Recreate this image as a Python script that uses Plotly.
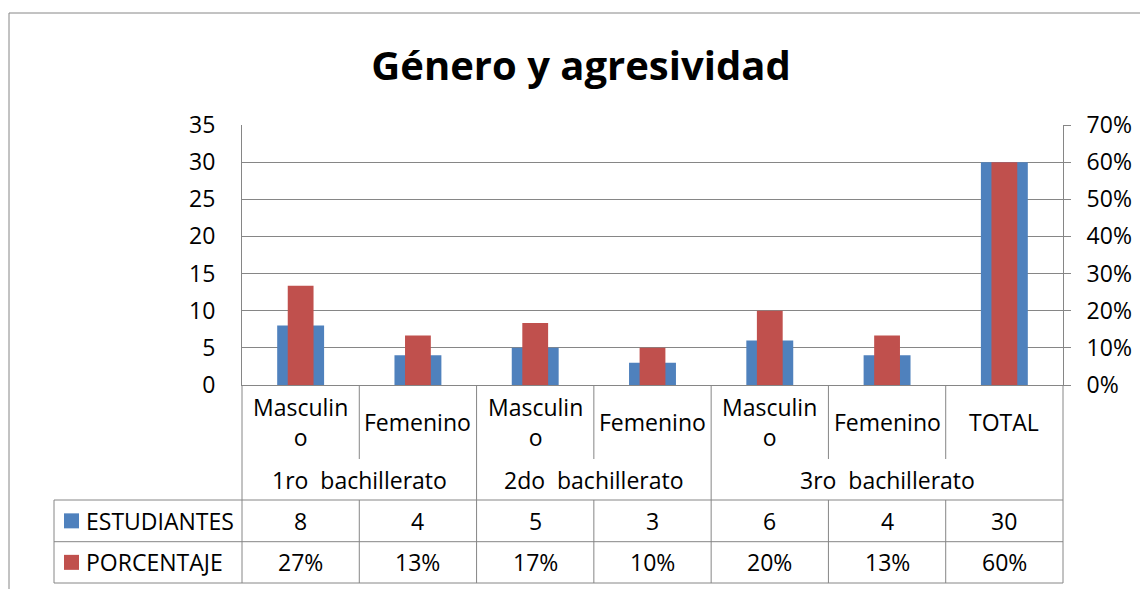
import plotly.graph_objects as go

# ---------------- data ----------------
subcategories = ["Masculino", "Femenino", "Masculino", "Femenino", "Masculino", "Femenino", "TOTAL"]
cat_labels = ["Masculin<br>o", "Femenino", "Masculin<br>o", "Femenino", "Masculin<br>o", "Femenino", "TOTAL"]
groups = ["1ro  bachillerato", "2do  bachillerato", "3ro  bachillerato"]
group_spans = [(0, 1), (2, 3), (4, 6)]
estudiantes = [8, 4, 5, 3, 6, 4, 30]
porcentaje = [0.267, 0.133, 0.167, 0.10, 0.20, 0.133, 0.60]
series_names = ["ESTUDIANTES", "PORCENTAJE"]
left_ticks = [0, 5, 10, 15, 20, 25, 30, 35]
right_ticks = [0, 0.1, 0.2, 0.3, 0.4, 0.5, 0.6, 0.7]
title_text = "Género y agresividad"

# ---------------- style ----------------
BLUE = "#4F81BD"
RED = "#C0504D"
GRID = "#868686"
FONT = "'Open Sans', 'Noto Sans', sans-serif"
FS = 23

W, H = 1140, 589
L, R, T, B = 242, 1063, 125, 385
n = len(subcategories)
xs = list(range(n))


def fx(px):
    return (px - L) / (R - L)


def fy(py):
    return (B - py) / (B - T)


fig = go.Figure()
fig.add_trace(go.Bar(x=xs, y=estudiantes, name=series_names[0], width=0.4,
                     marker=dict(color=BLUE, line=dict(width=0)), yaxis="y"))
fig.add_trace(go.Bar(x=xs, y=porcentaje, name=series_names[1], width=0.22,
                     marker=dict(color=RED, line=dict(width=0)), yaxis="y2"))

shapes = []
annotations = []


def hline(py, x0, x1):
    shapes.append(dict(type="line", xref="paper", yref="paper", x0=fx(x0), x1=fx(x1),
                       y0=fy(py), y1=fy(py), line=dict(color=GRID, width=1), layer="above"))


def vline(px, y0, y1):
    shapes.append(dict(type="line", xref="paper", yref="paper", x0=fx(px), x1=fx(px),
                       y0=fy(y0), y1=fy(y1), line=dict(color=GRID, width=1), layer="above"))


# outer chart border (extends past the canvas on right/bottom)
vline(9, 13, H + 5)
hline(13, 9, W + 5)

# table geometry (pixels)
CAT_BOTTOM = 459
GROUP_BOTTOM = 500
ROW1_BOTTOM = 541.7
ROW2_BOTTOM = 583
LEG_LEFT = 54
colw = (R - L) / n
group_bounds = set()
for a, b in group_spans:
    group_bounds.add(a)
    group_bounds.add(b + 1)

for k in range(n + 1):
    px = L + k * colw
    if k in group_bounds or k == 0 or k == n:
        vline(px, B, ROW2_BOTTOM)
    else:
        vline(px, B, CAT_BOTTOM)
        vline(px, GROUP_BOTTOM, ROW2_BOTTOM)
vline(LEG_LEFT, GROUP_BOTTOM, ROW2_BOTTOM)
for py in (GROUP_BOTTOM, ROW1_BOTTOM, ROW2_BOTTOM):
    hline(py, LEG_LEFT, R)

txtfont = dict(family=FONT, size=FS, color="black")

# category labels
for i, lab in enumerate(cat_labels):
    annotations.append(dict(x=i, y=fy(422), xref="x", yref="paper", text=lab, showarrow=False,
                            xanchor="center", yanchor="middle", font=txtfont))
# group labels
for g, (a, b) in zip(groups, group_spans):
    annotations.append(dict(x=(a + b) / 2, y=fy(480), xref="x", yref="paper", text=g, showarrow=False,
                            xanchor="center", yanchor="middle", font=txtfont))
# table rows
row_centers = [(GROUP_BOTTOM + ROW1_BOTTOM) / 2, (ROW1_BOTTOM + ROW2_BOTTOM) / 2]
row_texts = [[str(v) for v in estudiantes], [f"{v:.0%}" for v in porcentaje]]
row_colors = [BLUE, RED]
for name, cy, texts, col in zip(series_names, row_centers, row_texts, row_colors):
    for i, t in enumerate(texts):
        annotations.append(dict(x=i, y=fy(cy), xref="x", yref="paper", text=t, showarrow=False,
                                xanchor="center", yanchor="middle", font=txtfont))
    shapes.append(dict(type="rect", xref="paper", yref="paper", x0=fx(64), x1=fx(79),
                       y0=fy(cy + 7.5), y1=fy(cy - 7.5), fillcolor=col, line=dict(width=0), layer="above"))
    annotations.append(dict(x=fx(84), y=fy(cy), xref="paper", yref="paper", text=name, showarrow=False,
                            xanchor="left", yanchor="middle", font=txtfont))

fig.update_layout(
    template="none",
    width=W, height=H, autosize=False,
    margin=dict(l=L, r=W - R, t=T, b=H - B, pad=0, autoexpand=False),
    paper_bgcolor="white", plot_bgcolor="white",
    barmode="overlay",
    showlegend=False,
    font=txtfont,
    title=dict(text=f"<b>{title_text}</b>", x=581 / W, xanchor="center", xref="container",
               y=1 - 66 / H, yanchor="middle", yref="container",
               font=dict(family=FONT, size=40, color="black")),
    xaxis=dict(range=[-0.5, n - 0.5], showticklabels=False, showgrid=False, zeroline=False,
               showline=True, linecolor=GRID, linewidth=1, ticks="", fixedrange=True,
               automargin=False),
    yaxis=dict(range=[0, 35], tickvals=left_ticks, showgrid=True, gridcolor=GRID, gridwidth=1,
               zeroline=False, showline=True, linecolor=GRID, linewidth=1, ticks="",
               ticklabelstandoff=21, tickfont=txtfont, automargin=False),
    yaxis2=dict(range=[0, 0.7], tickvals=right_ticks, tickformat=".0%", overlaying="y", side="right",
                showgrid=False, zeroline=False, showline=True, linecolor=GRID, linewidth=1,
                ticks="outside", ticklen=7, tickcolor=GRID, ticklabelstandoff=11,
                tickfont=txtfont, automargin=False),
    shapes=shapes,
    annotations=annotations,
)

fig.write_html("out.html",
               config={"responsive": False, "displayModeBar": False},
               post_script="document.body.style.margin='0';document.body.style.overflow='hidden';")
